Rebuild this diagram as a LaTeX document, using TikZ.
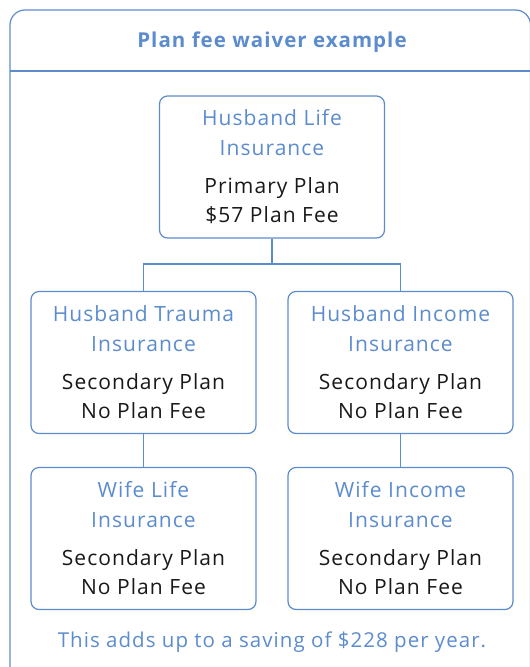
\documentclass[tikz,border=0pt]{standalone}
\usepackage{fontspec}
\setmainfont{Open Sans}[LetterSpace=5]
\definecolor{mainblue}{RGB}{92,140,206}
\definecolor{txtblack}{RGB}{25,25,25}
\tikzset{
  planbox/.style={draw=mainblue, line width=1.2pt, rounded corners=8pt, fill=white,
    minimum width=225pt, minimum height=142pt, align=center, inner sep=0pt,
    font=\fontsize{21}{29.5}\selectfont, text=txtblack},
  link/.style={draw=mainblue, line width=1.2pt},
  frame/.style={draw=mainblue, line width=1.2pt, rounded corners=15pt},
}
\newcommand{\bt}[1]{{\color{mainblue}#1}}
\begin{document}
\begin{tikzpicture}[x=1pt,y=-1pt]
\useasboundingbox (0,0) rectangle (530,667);
\draw[frame] (10,700) -- (10,10) -- (530.5,10) -- (530.5,700);
\draw[link] (10,71) -- (531,71);
\node[font=\bfseries\fontsize{20.5}{24}\selectfont, text=mainblue] (title) at (272,42.5) {Plan fee waiver example};
\node[planbox] (top) at (272,167) {\bt{Husband Life}\\\bt{Insurance}\\[8.5pt]Primary Plan\\\$57 Plan Fee};
\node[planbox] (ml) at (143.5,362.5) {\bt{Husband Trauma}\\\bt{Insurance}\\[8.5pt]Secondary Plan\\No Plan Fee};
\node[planbox] (mr) at (400.5,362.5) {\bt{Husband Income}\\\bt{Insurance}\\[8.5pt]Secondary Plan\\No Plan Fee};
\node[planbox] (bl) at (143.5,538.5) {\bt{Wife Life}\\\bt{Insurance}\\[8.5pt]Secondary Plan\\No Plan Fee};
\node[planbox] (br) at (400.5,538.5) {\bt{Wife Income}\\\bt{Insurance}\\[8.5pt]Secondary Plan\\No Plan Fee};
\coordinate (j) at (272,264);
\draw[link] (top.south) -- (j);
\draw[link] (ml.north) |- (j) -| (mr.north);
\draw[link] (ml.south) -- (bl.north);
\draw[link] (mr.south) -- (br.north);
\node[font=\fontsize{20.5}{24}\selectfont, text=mainblue] (foot) at (272,642) {This adds up to a saving of \$228 per year.};
\end{tikzpicture}
\end{document}
